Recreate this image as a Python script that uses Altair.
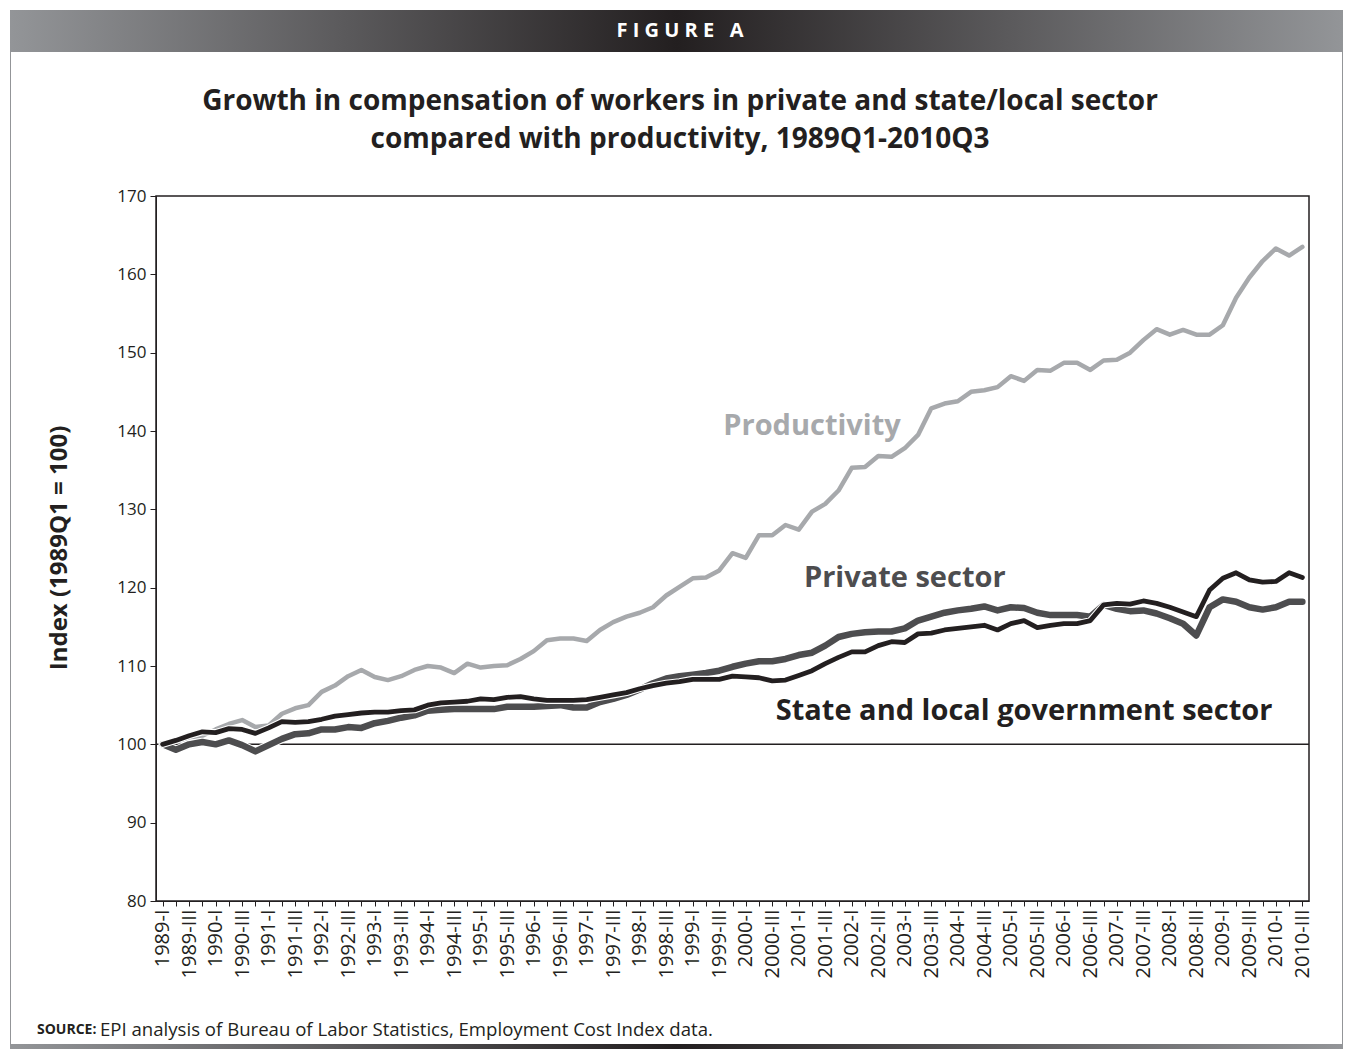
import altair as alt
import pandas as pd

years = [str(y) for y in range(1989, 2011)]
qnames = ["I", "II", "III", "IV"]
quarters = [f"{y}-{q}" for y in years for q in qnames][:87]

productivity = [100.0, 100.3, 100.9, 101.1, 101.9, 102.6, 103.1, 102.2, 102.4, 103.9,
                104.6, 105.0, 106.7, 107.5, 108.7, 109.5, 108.6, 108.2, 108.7, 109.5,
                110.0, 109.8, 109.1, 110.3, 109.8, 110.0, 110.1, 110.9, 111.9, 113.3,
                113.5, 113.5, 113.2, 114.6, 115.6, 116.3, 116.8, 117.5, 119.0, 120.1,
                121.2, 121.3, 122.2, 124.4, 123.8, 126.7, 126.7, 128.0, 127.4, 129.7,
                130.7, 132.4, 135.3, 135.4, 136.8, 136.7, 137.8, 139.5, 142.9, 143.5,
                143.8, 145.0, 145.2, 145.6, 147.0, 146.4, 147.8, 147.7, 148.7, 148.7,
                147.8, 149.0, 149.1, 150.0, 151.6, 153.0, 152.3, 152.9, 152.3, 152.3,
                153.5, 157.0, 159.6, 161.7, 163.3, 162.4, 163.5]

private = [100.0, 99.3, 100.0, 100.3, 100.0, 100.5, 99.9, 99.1, 99.9, 100.7,
           101.3, 101.4, 101.9, 101.9, 102.2, 102.1, 102.7, 103.0, 103.4, 103.7,
           104.3, 104.4, 104.5, 104.5, 104.5, 104.5, 104.8, 104.8, 104.8, 104.9,
           105.0, 104.7, 104.7, 105.4, 105.8, 106.3, 107.0, 107.8, 108.4, 108.7,
           108.9, 109.1, 109.4, 109.9, 110.3, 110.6, 110.6, 110.9, 111.4, 111.7,
           112.6, 113.7, 114.1, 114.3, 114.4, 114.4, 114.8, 115.8, 116.3, 116.8,
           117.1, 117.3, 117.6, 117.1, 117.5, 117.4, 116.8, 116.5, 116.5, 116.5,
           116.3, 117.8, 117.3, 117.0, 117.1, 116.7, 116.1, 115.4, 113.9, 117.5,
           118.5, 118.2, 117.5, 117.2, 117.5, 118.2, 118.2]

state_local = [100.0, 100.5, 101.1, 101.6, 101.5, 102.0, 101.9, 101.4, 102.1, 102.9,
               102.8, 102.9, 103.2, 103.6, 103.8, 104.0, 104.1, 104.1, 104.3, 104.4,
               105.0, 105.3, 105.4, 105.5, 105.8, 105.7, 106.0, 106.1, 105.8, 105.6,
               105.6, 105.6, 105.7, 106.0, 106.3, 106.6, 107.1, 107.5, 107.8, 108.0,
               108.3, 108.3, 108.3, 108.7, 108.6, 108.5, 108.1, 108.2, 108.8, 109.4,
               110.3, 111.1, 111.8, 111.8, 112.6, 113.1, 113.0, 114.1, 114.2, 114.6,
               114.8, 115.0, 115.2, 114.6, 115.4, 115.8, 114.9, 115.2, 115.4, 115.4,
               115.8, 117.8, 118.0, 117.9, 118.3, 118.0, 117.5, 116.9, 116.3, 119.7,
               121.2, 121.9, 121.0, 120.7, 120.8, 121.9, 121.3]

FONT = "Open Sans"
C_PROD = "#a7a9ac"
C_PRIV = "#4d4d4f"
C_STATE = "#231f20"

df = pd.DataFrame({
    "q": quarters * 3,
    "value": productivity + private + state_local,
    "series": ["Productivity"] * 87 + ["Private sector"] * 87 + ["State and local government sector"] * 87,
})

xscale = alt.Scale(type="point", domain=quarters, padding=0.5)
yscale = alt.Scale(domain=[80, 170], nice=False, zero=False)

x_enc = alt.X("q:N", scale=xscale, axis=alt.Axis(
    title=None, labelAngle=-90, labelFontSize=20, labelFont=FONT, labelColor="#231f20",
    labelExpr="test(regexp('-(II|IV)$'), datum.label) ? '' : datum.label",
    labelOverlap=False, tickSize=5, tickColor="#231f20", domainColor="#231f20",
    labelPadding=3, grid=False))
y_enc = alt.Y("value:Q", scale=yscale, axis=alt.Axis(
    title=None, values=list(range(80, 171, 10)), labelFontSize=17, labelFont=FONT,
    labelColor="#231f20", tickSize=6, tickColor="#231f20", domainColor="#231f20",
    labelPadding=4, grid=False))

base = alt.Chart(df)


def line(name, color, width):
    return base.transform_filter(alt.datum.series == name).mark_line(
        color=color, strokeWidth=width, strokeJoin="round", strokeCap="round"
    ).encode(x=x_enc, y=y_enc)


def line_halo(name, width):
    return base.transform_filter(alt.datum.series == name).mark_line(
        color="white", strokeWidth=width, strokeJoin="round", strokeCap="round"
    ).encode(x=x_enc, y=y_enc)


one = pd.DataFrame({"_": [0]})

# reference line at 100
ref = alt.Chart(pd.DataFrame({"v": [100]})).mark_rule(color="#231f20", strokeWidth=1.5).encode(
    y=alt.Y("v:Q", scale=yscale))

# series labels in data coordinates
lab_df = pd.DataFrame({
    "q": ["2001-II", "2003-I", "2005-II"],
    "value": [140.6, 121.2, 104.3],
    "text": ["Productivity", "Private sector", "State and local government sector"],
    "color": [C_PROD, C_PRIV, C_STATE],
    "size": [29, 29, 29],
})
labels = alt.Chart(lab_df).mark_text(font=FONT, fontWeight="bold", align="center", baseline="middle").encode(
    x=alt.X("q:N", scale=xscale), y=alt.Y("value:Q", scale=yscale), text="text:N",
    color=alt.Color("color:N", scale=None), size=alt.Size("size:Q", scale=None))

grad = {"gradient": "linear", "x1": 0, "x2": 1, "y1": 0, "y2": 0,
        "stops": [{"offset": 0, "color": "#939598"}, {"offset": 0.5, "color": "#231f20"},
                  {"offset": 1, "color": "#939598"}]}

header = alt.Chart(one).mark_rect(color=grad).encode(
    x=alt.value(-146), x2=alt.value(1187), y=alt.value(-186), y2=alt.value(-144))
footer = alt.Chart(one).mark_rect(color=grad).encode(
    x=alt.value(-146), x2=alt.value(1187), y=alt.value(848), y2=alt.value(853))
side_l = alt.Chart(one).mark_rule(color="#939598", strokeWidth=1).encode(
    x=alt.value(-145.5), y=alt.value(-144), y2=alt.value(848))
side_r = alt.Chart(one).mark_rule(color="#939598", strokeWidth=1).encode(
    x=alt.value(1186.5), y=alt.value(-144), y2=alt.value(848))

NB = "\u00a0"
fig_label = NB.join(list("FIGURE")) + NB * 3 + "A"
fig_text = alt.Chart(one).mark_text(text=fig_label, font=FONT, fontWeight="bold", fontSize=20,
                                     color="white", align="center", baseline="middle").encode(
    x=alt.value(524), y=alt.value(-165))
title1 = alt.Chart(one).mark_text(text="Growth in compensation of workers in private and state/local sector",
                                   font=FONT, fontWeight="bold", fontSize=28, color="#231f20",
                                   align="center", baseline="middle").encode(x=alt.value(524), y=alt.value(-94))
title2 = alt.Chart(one).mark_text(text="compared with productivity, 1989Q1-2010Q3",
                                   font=FONT, fontWeight="bold", fontSize=28, color="#231f20",
                                   align="center", baseline="middle").encode(x=alt.value(524), y=alt.value(-56))
ytitle = alt.Chart(one).mark_text(text="Index (1989Q1 = 100)", font=FONT, fontWeight="bold", fontSize=24,
                                   color="#231f20", angle=270, align="center", baseline="middle").encode(
    x=alt.value(-96), y=alt.value(352))
src1 = alt.Chart(one).mark_text(text="SOURCE:", font=FONT, fontWeight="bold", fontSize=14, color="#231f20",
                                 align="left", baseline="middle").encode(x=alt.value(-119), y=alt.value(834))
src2 = alt.Chart(one).mark_text(text="EPI analysis of Bureau of Labor Statistics, Employment Cost Index data.",
                                 font=FONT, fontSize=18.6, color="#231f20",
                                 align="left", baseline="middle").encode(x=alt.value(-56), y=alt.value(834))

chart = alt.layer(
    ref,
    line("Productivity", C_PROD, 4.5),
    line_halo("Private sector", 8.5),
    line("Private sector", C_PRIV, 6.5),
    line_halo("State and local government sector", 7),
    line("State and local government sector", C_STATE, 4.8),
    labels,
    header, footer, side_l, side_r, fig_text, title1, title2, ytitle, src1, src2,
).properties(
    width=1153, height=705,
    autosize=alt.AutoSizeParams(type="none"),
    padding={"left": 148, "top": 188, "right": 36, "bottom": 153},
    background="white",
).configure_view(stroke="#231f20", strokeWidth=1.5)

chart.save("out.html", embed_options={"renderer": "svg", "actions": False})
